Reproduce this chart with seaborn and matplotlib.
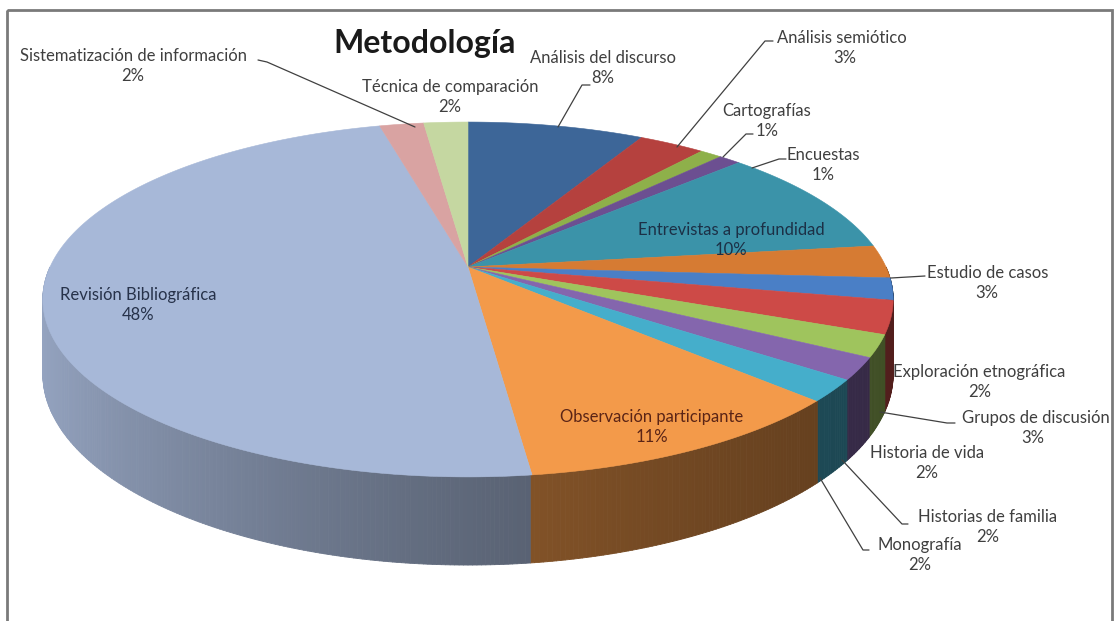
import matplotlib
matplotlib.use("Agg")

import matplotlib.pyplot as plt
import numpy as np
import seaborn as sns
from matplotlib.collections import PolyCollection
from matplotlib.colors import to_rgb
from matplotlib.patches import Rectangle


# ------------------------------------------------------------------
# data (clockwise from 12 o'clock)
# ------------------------------------------------------------------
categories = [
    "Análisis del discurso",
    "Análisis semiótico",
    "Cartografías",
    "Encuestas",
    "Entrevistas a profundidad",
    "Estudio de casos",
    "Exploración etnográfica",
    "Grupos de discusión",
    "Historia de vida",
    "Historias de familia",
    "Monografía",
    "Observación participante",
    "Revisión Bibliográfica",
    "Sistematización de información",
    "Técnica de comparación",
]
values = [8, 3, 1, 1, 10, 3, 2, 3, 2, 2, 2, 11, 48, 2, 2]

slice_colors = [
    "#3d6698", "#b5413e", "#8eb04a", "#6c4f91", "#3b93a9", "#d67b33",
    "#4a7fc6", "#cd4a47", "#9fc45d", "#8466ad", "#45aecb", "#f39a4a",
    "#a7b8d8", "#d9a3a2", "#c5d7a1",
]

title = "Metodología"

# ------------------------------------------------------------------
# layout of the fake 3-D pie (pixel space)
# ------------------------------------------------------------------
W, H_FIG = 1115, 621
CX, CY = 468, 267        # apex of the pie
RX, RY = 418, 171.5      # radii before perspective
K = 0.183                # perspective strength
DEPTH = 72               # thickness of the pie

# label centres: (name x, name y, percent x) -- percent sits 20 px lower
label_pos = [
    (603, 58, 603), (842, 38, 845), (767, 111, 767), (823, 155, 823),
    (731, 230, 731), (988, 273, 987), (979, 372, 980), (1036, 418, 1033),
    (927, 453, 927), (988, 517, 988), (920, 545, 920), (652, 417, 652),
    (138, 295, 138), (133, 56, 133), (450, 87, 450),
]
leaders = {
    0: [(590, 85), (582, 85), (558, 127)],
    1: [(773, 41), (765, 41), (677, 147)],
    2: [(753, 134), (746, 134), (723, 157)],
    3: [(786, 159), (779, 159), (752, 168)],
    5: [(925, 276), (891, 278)],
    7: [(955, 423), (947, 423), (880, 412)],
    9: [(908, 524), (902, 524), (842, 460)],
    10: [(869, 550), (863, 550), (820, 478)],
    13: [(258, 60), (267, 62), (415, 127)],
}
inside_color = {4: "#1c3046", 11: "#5a2416", 12: "#27324a"}


def project(t_deg, drop=0.0):
    t = np.radians(t_deg)
    u, v = np.cos(t), np.sin(t)
    w = 1 + K * v
    return CX + RX * u / w, CY - RY * v / w + drop / w


def shade(rgb, factor):
    return tuple(min(1.0, c * factor) for c in rgb)


sns.set_theme(style="white")
plt.rcParams["font.family"] = ["Lato", "DejaVu Sans"]

fig = plt.figure(figsize=(W / 100, H_FIG / 100), dpi=100)
ax = fig.add_axes([0, 0, 1, 1])
ax.set_xlim(0, W)
ax.set_ylim(H_FIG, 0)
ax.axis("off")

fractions = np.array(values, dtype=float) / sum(values)
cum = np.concatenate([[0], np.cumsum(fractions)])
starts = 90 - 360 * cum[:-1]
ends = 90 - 360 * cum[1:]

# side wall: thin strips along the front half, back ones first
step = 0.5
ts = np.arange(-180, 0, step)
ts = ts[np.argsort(-np.sin(np.radians(ts + step / 2)))]
polys, fcs = [], []
for t in ts:
    mid = t + step / 2
    frac = ((90 - mid) % 360) / 360
    idx = min(np.searchsorted(cum, frac, side="right") - 1, len(values) - 1)
    x0, y0 = project(t)
    x1, y1 = project(t + step)
    x0b, y0b = project(t, DEPTH)
    x1b, y1b = project(t + step, DEPTH)
    polys.append([(x0, y0), (x1, y1), (x1b, y1b), (x0b, y0b)])
    u = np.cos(np.radians(mid))
    f = 0.40 + 0.50 * ((1 - u) / 2) ** 1.6
    fcs.append(shade(to_rgb(slice_colors[idx]), f))
ax.add_collection(PolyCollection(polys, facecolors=fcs, edgecolors=fcs, linewidths=0.6))

# top face
for s, e, col in zip(starts, ends, slice_colors):
    arc = np.linspace(s, e, max(4, int(abs(s - e) * 2)))
    xs, ys = project(arc)
    ax.fill(np.r_[CX, xs], np.r_[CY, ys], color=col, lw=0.4, ec=col)

# labels: name on one line, percentage below it
for i, (name, val) in enumerate(zip(categories, values)):
    x, y, xp = label_pos[i]
    col = inside_color.get(i, "#3f3f3f")
    ax.text(x, y, name, ha="center", va="center", fontsize=12, color=col)
    ax.text(xp, y + 20, f"{val}%", ha="center", va="center", fontsize=12, color=col)
for pts in leaders.values():
    xs, ys = zip(*pts)
    ax.plot(xs, ys, color="#404040", lw=0.9)

ax.text(425, 44, title, ha="center", va="center", fontsize=23,
        fontweight="bold", color="#1a1a1a")

ax.add_patch(Rectangle((7, 10), 1105, 660, fill=False, ec="#7a7a7a", lw=2))

fig.savefig("out.png", dpi=100)
